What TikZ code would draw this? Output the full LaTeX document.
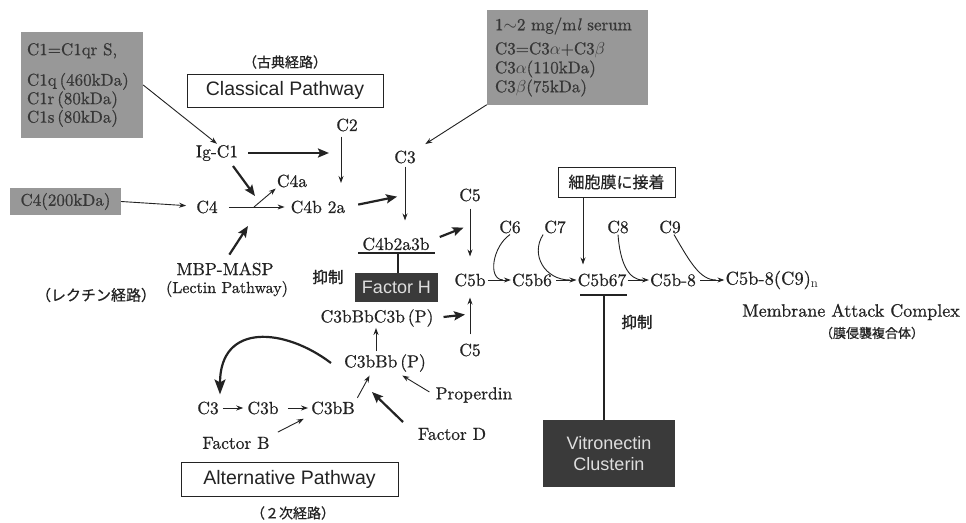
\documentclass[tikz,border=0pt]{standalone}
\usepackage{fontspec}
\newfontfamily\serifk{lmroman10-regular.otf}[FakeBold=0.7,ItalicFont=lmroman10-italic.otf]
\newfontfamily\jpfont[FakeBold=0.6]{Noto Sans CJK JP}
\newfontfamily\jpboldfont[FakeBold=1.5]{Noto Sans CJK JP}
\newfontfamily\arialf{Liberation Sans}
\usetikzlibrary{arrows.meta}
\definecolor{ink}{RGB}{35,35,35}
\definecolor{boxgray}{RGB}{152,152,152}
\definecolor{boxtext}{RGB}{55,55,55}
\definecolor{darkfill}{RGB}{58,58,58}
\definecolor{lighttext}{RGB}{222,222,222}
\begin{document}
\begin{tikzpicture}[x=1pt,y=-1pt,
 lbl/.style={font=\serifk\fontsize{17.5}{20}\selectfont,text=ink,inner sep=1pt},
 jlbl/.style={font=\jpfont\fontsize{14}{16}\selectfont,text=ink,inner sep=1pt},
 jbold/.style={font=\jpboldfont\fontsize{15.5}{17}\selectfont,text=ink,inner sep=1pt},
 gbox/.style={fill=boxgray,text=boxtext,font=\serifk\fontsize{17}{18.5}\selectfont,align=left,inner sep=6pt},
 dbox/.style={fill=darkfill,text=lighttext,font=\arialf\fontsize{18}{21}\selectfont,align=center,inner sep=2pt},
 pbox/.style={draw=ink,line width=1pt,text=ink,font=\arialf\fontsize{19.5}{22}\selectfont,inner sep=2pt},
 arr/.style={draw=ink,line width=0.9pt,-{Stealth[length=7pt,width=5pt]}},
 barr/.style={draw=ink,line width=2.2pt,-{Stealth[length=11pt,width=9pt,inset=2pt]}},
 bigarr/.style={draw=ink,line width=2.2pt,-{Stealth[length=15pt,width=11pt,inset=3pt]}},
 inhbar/.style={draw=ink,line width=2.2pt},
 ]
\useasboundingbox[fill=white] (0,0) rectangle (966,522);

% ---------- grey info boxes ----------
\node[gbox,minimum width=122pt,minimum height=106pt,text width=110pt] (c1box) at (82,85)
  {C1=C1qr S,\\[12pt]C1q\,(460kDa)\\C1r\,(80kDa)\\C1s\,(80kDa)};
\node[gbox,minimum width=161pt,minimum height=90pt,text width=145pt,inner sep=8pt,font=\serifk\fontsize{17}{19}\selectfont] (c3box) at (567.5,57)
  {1$\sim$2 mg/m\textit{l} serum\\[5pt]C3=C3$\alpha$+C3$\beta$\\C3$\alpha$(110kDa)\\C3$\beta$(75kDa)};
\node[gbox,minimum width=111pt,minimum height=27pt,inner sep=2pt] (c4box) at (65.5,201.5) {C4(200kDa)};

% ---------- classical pathway ----------
\node[jlbl] (classjp) at (285,62) {（古典経路）};
\node[pbox,minimum width=196pt,minimum height=33pt] (classbox) at (285,90.5) {Classical Pathway};
\node[lbl] (c2) at (347,125) {C2};
\node[lbl] (igc1) at (217,153) {Ig-C1};
\node[lbl] (c3a) at (405,157) {C3};
\node[lbl] (c4) at (207,207) {C4};
\node[lbl] (c4a) at (292,181) {C4a};
\node[lbl] (c4b2a) at (318,207) {C4b 2a};
\node[lbl] (mbp) at (225,269) {MBP-MASP};
\node[lbl,font=\serifk\fontsize{16}{18}\selectfont] (lectin) at (227,289) {(Lectin Pathway)};
\node[jlbl,font=\jpfont\fontsize{15}{17}\selectfont] (lectinjp) at (96,295) {（レクチン経路）};
\node[lbl] (c4b2a3b) at (396,244) {C4b2a3b};
\node[jbold] (inhib1) at (328,277) {抑制};
\node[dbox,minimum width=83pt,minimum height=29pt] (fh) at (396.5,287.5) {Factor H};

% ---------- alternative pathway ----------
\node[lbl] (c3bbbc3b) at (377,318) {C3bBbC3b\,(P)};
\node[lbl] (c3bbb) at (385,363) {C3bBb\,(P)};
\node[lbl] (c3alt) at (208,408) {C3};
\node[lbl] (c3b) at (263,408) {C3b};
\node[lbl] (c3bB) at (333,408) {C3bB};
\node[lbl] (prop) at (474,395) {Properdin};
\node[lbl] (fd) at (452,434) {Factor D};
\node[lbl] (fb) at (236,443) {Factor B};
\node[pbox,minimum width=217pt,minimum height=34pt] (altbox) at (289.5,479) {Alternative Pathway};
\node[jlbl] (altjp) at (293,513) {（２次経路）};

% ---------- terminal pathway ----------
\node[lbl] (c5t) at (470,195) {C5};
\node[lbl] (c5b) at (470,280) {C5b};
\node[lbl] (c5d) at (470,350) {C5};
\node[pbox,font=\jpfont\fontsize{16}{18}\selectfont,minimum width=117pt,minimum height=30pt] (membox) at (616.5,182) {細胞膜に接着};
\node[lbl] (c6) at (510,227) {C6};
\node[lbl] (c7) at (555,227) {C7};
\node[lbl] (c8) at (618,227) {C8};
\node[lbl] (c9) at (670,227) {C9};
\node[lbl] (c5b6) at (532,280) {C5b6};
\node[lbl] (c5b67) at (602,280) {C5b67};
\node[lbl] (c5b8) at (673,280) {C5b-8};
\node[lbl,font=\serifk\fontsize{18.5}{20}\selectfont] (mac) at (772,280) {C5b-8(C9)$_{\mathrm{n}}$};
\node[jbold] (inhib2) at (637,322) {抑制};
\node[lbl,font=\serifk\fontsize{18}{20}\selectfont] (macen) at (851,312) {Membrane Attack Complex};
\node[jlbl,font=\jpfont\fontsize{13}{15}\selectfont] (macjp) at (872,333) {（膜侵襲複合体）};
\node[dbox,minimum width=132pt,minimum height=67pt] (vitro) at (609,453.5) {Vitronectin\\Clusterin};

% ---------- junction coordinates ----------
\coordinate (j1) at (254,207);
\coordinate (k2) at (341,153);
\coordinate (c2e) at (341,183);
\coordinate (k3) at (405,195);
\coordinate (igs) at (233,166);
\coordinate (ige) at (255,196);
\coordinate (me) at (248,226);
\coordinate (k5) at (470,225);
\coordinate (k5b) at (470,314);
\coordinate (conv) at (372,392);
\coordinate (fds) at (403,422);
\coordinate (hb1) at (358,253);
\coordinate (hb2) at (435,253);
\coordinate (hbm) at (398,253);
\coordinate (vb1) at (580,295);
\coordinate (vb2) at (627,295);
\coordinate (vbm) at (604,295);
\coordinate (m6) at (503,280);
\coordinate (m7) at (570,280);
\coordinate (m8) at (643,280);
\coordinate (m9) at (716,280);

% ---------- connectors: classical ----------
\draw[arr] (c1box.east) -- (igc1.north);
\draw[arr,shorten >=9pt] (c4box.east) -- (c4);
\draw[barr,shorten <=9pt,shorten >=12pt] (igc1) -- (k2);
\draw[arr,shorten <=4pt] (c2.south -| k2) -- (c2e);
\draw[arr,shorten <=10pt,shorten >=5pt] (c4) -- (c4b2a);
\draw[arr] (j1) -- (c4a.south west);
\draw[barr] (igs) -- (ige);
\draw[barr,shorten <=8pt] (mbp.north) -- (me);
\draw[barr,shorten <=12pt,shorten >=8pt] (c4b2a.east) -- (k3);
\draw[arr,shorten <=2pt,shorten >=16pt] (c3a) -- (c3a |- c4b2a3b.north);
\draw[arr,shorten >=10pt] (c3box.south west) -- (c3a.north east);
\draw[inhbar] (hb1) -- (hb2);
\draw[inhbar] (hbm) -- (hbm |- fh.north);
\draw[barr,shorten >=7pt] ([shift={(9pt,7pt)}]c4b2a3b.east) -- (k5);

% ---------- connectors: C5 ----------
\draw[arr,shorten <=6pt,shorten >=16pt] (c5t) -- (c5b);
\draw[arr,shorten <=8pt,shorten >=10pt] (c5d) -- (c5b);
\draw[barr,shorten <=9pt,shorten >=5pt] (c3bbbc3b.east) -- (k5b);

% ---------- connectors: alternative ----------
\draw[arr,shorten <=2pt] ([xshift=-9pt]c3bbb.north) -- ([xshift=-9pt]c3bbb.north |- c3bbbc3b.south);
\draw[bigarr] ([xshift=-12pt]c3bbb.west) .. controls (285,328) and (220,322) .. ([xshift=12pt,yshift=6pt]c3alt.north);
\draw[arr,shorten <=3pt,shorten >=3pt] (c3alt) -- (c3b);
\draw[arr,shorten <=8pt,shorten >=2pt] (c3b) -- (c3bB);
\draw[arr,shorten <=8pt,shorten >=7pt] (fb.north east) -- (c3bB.south west);
\draw[arr,shorten <=3pt,shorten >=3pt] (c3bB.north east) -- ([xshift=-14pt]c3bbb.south);
\draw[barr] (fds) -- (conv);
\draw[arr,shorten <=6pt,shorten >=5pt] (prop.west) -- ([xshift=13pt]c3bbb.south);

% ---------- connectors: terminal ----------
\draw[arr,shorten >=8pt] ([xshift=-33.5pt]membox.south) -- ([xshift=-19pt]c5b67.north);
\draw[arr,shorten <=1pt] (c5b) -- (c5b6);
\draw[arr,shorten <=3pt] (c5b6) -- (c5b67);
\draw[arr] (c5b67) -- (c5b8);
\draw[arr,shorten <=3pt] (c5b8) -- (mac);
\draw[draw=ink,line width=0.9pt] (c6.south) .. controls (493,246) and (487,279) .. (m6);
\draw[draw=ink,line width=0.9pt] (c7.south west) .. controls (530,255) and (545,280) .. (m7);
\draw[draw=ink,line width=0.9pt] (c8.south) .. controls (620,262) and (628,280) .. (m8);
\draw[draw=ink,line width=0.9pt] ([xshift=4pt]c9.south) .. controls (690,262) and (700,280) .. (m9);
\draw[inhbar] (vb1) -- (vb2);
\draw[inhbar] (vbm) -- (vbm |- vitro.north);
\end{tikzpicture}
\end{document}
